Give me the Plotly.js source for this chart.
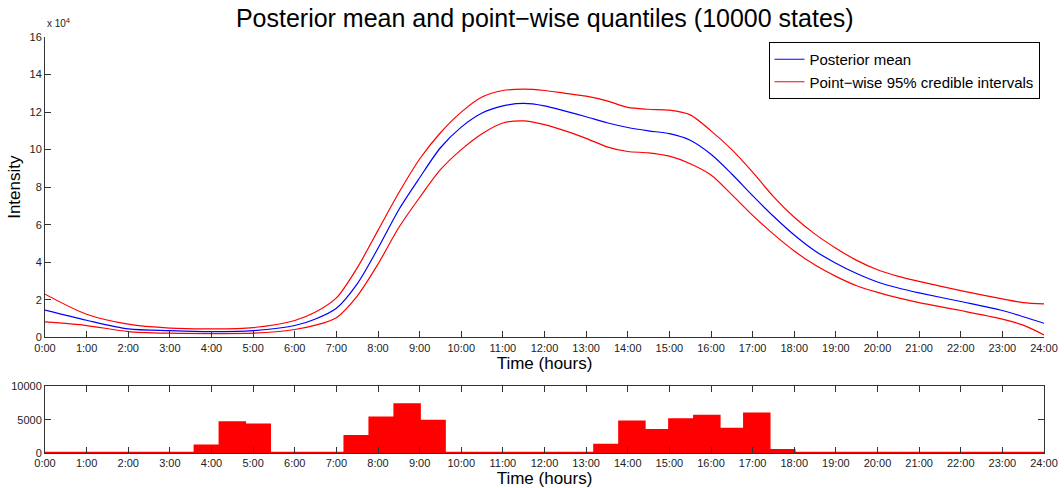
<!DOCTYPE html>
<html>
<head>
<meta charset="utf-8">
<script src="https://cdn.plot.ly/plotly-3.0.1.min.js"></script>
<style>html,body{margin:0;padding:0;background:#fff;}#chart{width:1064px;height:488px;}</style>
</head>
<body>
<div id="chart"></div>
<script>
// Time grid (hours) for the intensity curves
var hours = [0,1,2,3,4,5,6,6.5,7,7.5,8,8.5,9,9.5,10,10.5,11,11.5,12,12.5,13,13.5,14,14.5,15,15.5,16,16.5,17,17.5,18,18.5,19,19.5,20,20.5,21,22,23,23.5,24];
// Intensity values, in units of 10^4
var posteriorMean = [1.45,0.91,0.45,0.36,0.31,0.36,0.63,0.98,1.55,2.85,4.75,6.8,8.5,10.1,11.2,11.95,12.33,12.46,12.33,12.05,11.75,11.43,11.18,11.0,10.85,10.5,9.75,8.7,7.55,6.45,5.45,4.6,3.95,3.4,2.95,2.63,2.37,1.91,1.43,1.1,0.75];
var upperCI = [2.30,1.23,0.70,0.49,0.45,0.52,0.9,1.35,2.1,3.7,5.7,7.7,9.5,10.9,12.0,12.8,13.15,13.22,13.15,13.0,12.85,12.6,12.25,12.15,12.1,11.85,11.0,10.0,8.8,7.5,6.4,5.5,4.75,4.1,3.6,3.25,2.98,2.49,2.05,1.85,1.78];
var lowerCI = [0.82,0.63,0.31,0.22,0.2,0.22,0.42,0.65,1.05,2.2,3.9,5.85,7.45,8.93,10.0,10.85,11.42,11.53,11.33,11.0,10.6,10.15,9.9,9.83,9.65,9.25,8.65,7.6,6.5,5.5,4.6,3.85,3.25,2.75,2.4,2.1,1.85,1.43,0.97,0.65,0.13];

// Histogram of observations: 40 bins of 0.6 h each
var binWidth = 0.6;
var binCounts = [0,0,0,0,0,0,1100,4600,4250,0,0,0,2500,5300,7300,4800,0,0,0,0,0,0,1200,4700,3400,5050,5550,3600,5900,400,0,0,0,0,0,0,0,0,0,0];

// Tick labels
var hourTicks = [0,1,2,3,4,5,6,7,8,9,10,11,12,13,14,15,16,17,18,19,20,21,22,23,24];
var hourLabels = ["0:00","1:00","2:00","3:00","4:00","5:00","6:00","7:00","8:00","9:00","10:00","11:00","12:00","13:00","14:00","15:00","16:00","17:00","18:00","19:00","20:00","21:00","22:00","23:00","24:00"];
var yTicksTop = [0,2,4,6,8,10,12,14,16];
var yTicksBottom = [0,5000,10000];

var binEdges = [];
var stepY = [];
for (var i = 0; i <= binCounts.length; i++) {
  binEdges.push(i * binWidth);
  stepY.push(i < binCounts.length ? binCounts[i] : binCounts[binCounts.length - 1]);
}

var FONT = "Liberation Sans, Arial, Helvetica, sans-serif";

var traces = [
  {x: hours, y: posteriorMean, type: 'scatter', mode: 'lines', name: 'Posterior mean',
   line: {color: '#0000ff', width: 1.2, shape: 'spline', smoothing: 0.8}, xaxis: 'x', yaxis: 'y'},
  {x: hours, y: upperCI, type: 'scatter', mode: 'lines', name: 'Point\u2212wise 95% credible intervals',
   line: {color: '#ff0000', width: 1.2, shape: 'spline', smoothing: 0.8}, xaxis: 'x', yaxis: 'y'},
  {x: hours, y: lowerCI, type: 'scatter', mode: 'lines', name: 'lower', showlegend: false,
   line: {color: '#ff0000', width: 1.2, shape: 'spline', smoothing: 0.8}, xaxis: 'x', yaxis: 'y'},
  {x: binEdges, y: stepY, type: 'scatter', mode: 'lines', showlegend: false, fill: 'tozeroy',
   fillcolor: '#ff0000', line: {color: '#ff0000', width: 2.5, shape: 'hv'}, xaxis: 'x2', yaxis: 'y2'}
];

var axisCommon = {
  tickfont: {family: FONT, size: 11, color: '#222'},
  ticks: 'inside', ticklen: 6, tickwidth: 1, tickcolor: '#333',
  showgrid: false, zeroline: false, showline: true, linecolor: '#333', linewidth: 1
};

var layout = {
  width: 1064, height: 488,
  margin: {l: 45, r: 20, t: 37, b: 35},
  paper_bgcolor: '#fff', plot_bgcolor: '#fff',
  showlegend: true,
  title: {text: 'Posterior mean and point\u2212wise quantiles (10000 states)',
          font: {family: FONT, size: 25, color: '#000'}, x: 0.512, xanchor: 'center', y: 0.962, yanchor: 'middle'},
  xaxis: Object.assign({}, axisCommon, {
    domain: [0, 1], range: [0, 24], anchor: 'y',
    tickmode: 'array', tickvals: hourTicks, ticktext: hourLabels,
    title: {text: 'Time (hours)', font: {family: FONT, size: 17, color: '#000'}, standoff: 1}
  }),
  yaxis: Object.assign({}, axisCommon, {
    domain: [0.278, 1], range: [0, 16], anchor: 'x',
    tickmode: 'array', tickvals: yTicksTop, ticktext: yTicksTop.map(String),
    title: {text: 'Intensity', font: {family: FONT, size: 17, color: '#000'}, standoff: 4}
  }),
  xaxis2: Object.assign({}, axisCommon, {
    domain: [0, 1], range: [0, 24], anchor: 'y2', mirror: 'ticks',
    tickmode: 'array', tickvals: hourTicks, ticktext: hourLabels,
    title: {text: 'Time (hours)', font: {family: FONT, size: 17, color: '#000'}, standoff: 1}
  }),
  yaxis2: Object.assign({}, axisCommon, {
    domain: [0, 0.16], range: [0, 10000], anchor: 'x2', mirror: 'ticks',
    tickmode: 'array', tickvals: yTicksBottom, ticktext: yTicksBottom.map(String)
  }),
  legend: {x: 0.9955, xanchor: 'right', y: 0.988, yanchor: 'top',
           bgcolor: '#fff', bordercolor: '#000', borderwidth: 1,
           font: {family: FONT, size: 15, color: '#000'}, tracegroupgap: 0},
  annotations: [
    {xref: 'paper', yref: 'paper', x: 0, y: 1.014, xanchor: 'left', yanchor: 'bottom',
     text: 'x 10<sup>4</sup>', showarrow: false, font: {family: FONT, size: 10, color: '#222'}}
  ]
};

Plotly.newPlot('chart', traces, layout, {displayModeBar: false, staticPlot: true});
</script>
</body>
</html>
